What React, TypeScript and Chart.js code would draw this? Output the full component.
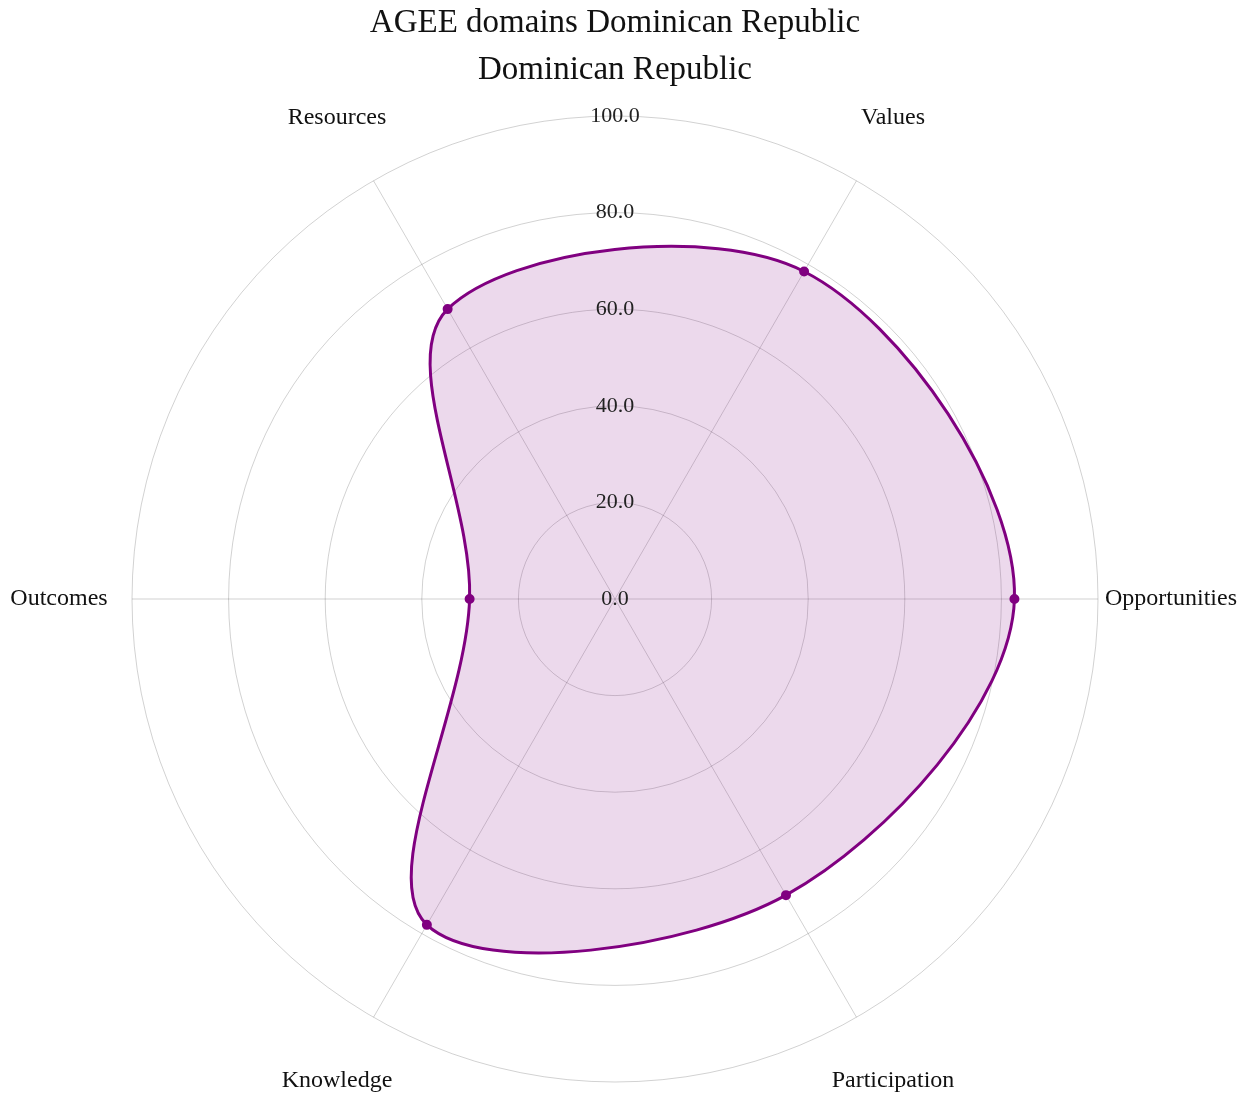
import React, { useEffect, useRef } from "react";
import { Chart, registerables } from "chart.js";

Chart.register(...registerables);

const titleLines = ["AGEE domains Dominican Republic", "Dominican Republic"];
const categories = ["Opportunities", "Participation", "Knowledge", "Outcomes", "Resources", "Values"];
const scores = [82.7, 70.8, 77.9, 30.1, 69.3, 78.3];
const tickValues = [0, 20, 40, 60, 80, 100];
const seriesLabel = "Dominican Republic";

const serif = "'Liberation Serif', 'Times New Roman', serif";

const labelsPlugin = {
  id: "radarLabels",
  afterDatasetsDraw(chart: any) {
    const scale = chart.scales.r;
    const ctx = chart.ctx;
    ctx.save();
    ctx.textAlign = "center";
    ctx.textBaseline = "middle";
    // tick labels straight up from the centre
    ctx.fillStyle = "#222";
    ctx.font = `22px ${serif}`;
    tickValues.forEach((v) => {
      const d = scale.getDistanceFromCenterForValue(v);
      ctx.fillText(v.toFixed(1), scale.xCenter, scale.yCenter - d);
    });
    // category labels centred beyond the outer ring
    ctx.fillStyle = "#111";
    ctx.font = `24px ${serif}`;
    categories.forEach((c, i) => {
      const p = scale.getPointPosition(i, scale.drawingArea + 73);
      ctx.fillText(c, p.x, p.y);
    });
    ctx.restore();
  },
};

export default function App() {
  const ref = useRef<HTMLCanvasElement | null>(null);
  useEffect(() => {
    if (!ref.current) return;
    const chart = new Chart(ref.current, {
      type: "radar",
      data: {
        labels: categories,
        datasets: [
          {
            label: seriesLabel,
            data: scores,
            borderColor: "#800080",
            backgroundColor: "rgba(128,0,128,0.15)",
            borderWidth: 3,
            pointRadius: 3.5,
            pointBackgroundColor: "#800080",
            pointBorderColor: "#800080",
            fill: true,
            tension: 0.34,
          },
        ],
      },
      options: {
        animation: false,
        responsive: true,
        maintainAspectRatio: false,
        layout: { padding: { top: 0, bottom: 13, left: 0, right: 18 } },
        plugins: {
          legend: { display: false },
          tooltip: { enabled: false },
          title: {
            display: true,
            text: titleLines,
            color: "#111",
            font: { family: serif, size: 33, weight: "normal", lineHeight: 47 / 33 },
            padding: { top: -8.5, bottom: 22.5 },
          },
        },
        scales: {
          r: {
            min: 0,
            max: 100,
            startAngle: 90,
            ticks: { stepSize: 20, display: false },
            grid: { circular: true, color: "rgba(0,0,0,0.18)", lineWidth: 1 },
            angleLines: { color: "rgba(0,0,0,0.18)", lineWidth: 1 },
            pointLabels: { display: false },
          },
        },
      },
      plugins: [labelsPlugin],
    });
    return () => chart.destroy();
  }, []);
  return (
    <div style={{ width: 1232, height: 1087 }}>
      <canvas ref={ref} />
    </div>
  );
}
